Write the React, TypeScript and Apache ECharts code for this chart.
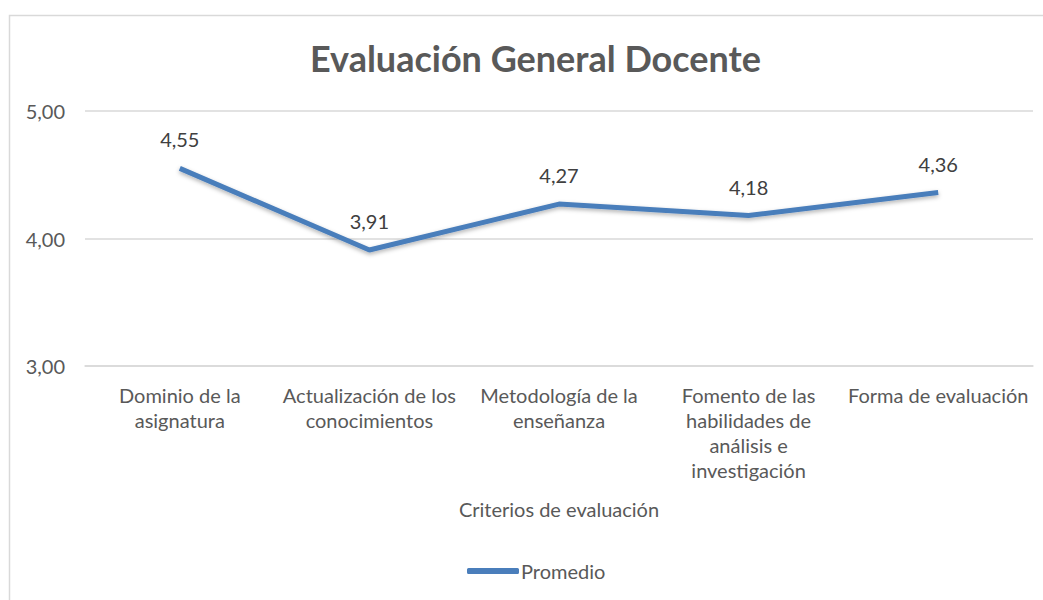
import React, { useEffect, useRef } from "react";
import * as echarts from "echarts";

const categories = [
  "Dominio de la\nasignatura",
  "Actualización de los\nconocimientos",
  "Metodología de la\nenseñanza",
  "Fomento de las\nhabilidades de\nanálisis e\ninvestigación",
  "Forma de evaluación",
];
const promedio = [4.55, 3.91, 4.27, 4.18, 4.36];
const title = "Evaluación General Docente";
const xAxisName = "Criterios de evaluación";
const seriesName = "Promedio";

const FONT = "Lato, 'Open Sans', sans-serif";

export default function App() {
  const ref = useRef<HTMLDivElement>(null);
  useEffect(() => {
    if (!ref.current) return;
    const chart = echarts.init(ref.current, undefined, { renderer: "svg" });
    chart.setOption({
      animation: false,
      backgroundColor: "#ffffff",
      textStyle: { fontFamily: FONT },
      title: {
        text: title,
        left: 305,
        top: 35,
        textStyle: { fontSize: 36, fontWeight: "bold", color: "#595959", fontFamily: FONT },
      },
      graphic: [
        {
          type: "rect",
          shape: { x: 9.5, y: 15.5, width: 1050, height: 600 },
          style: { fill: "none", stroke: "#d9d9d9", lineWidth: 1.5 },
          silent: true,
        },
      ],
      legend: {
        bottom: 14,
        left: 462,
        icon: "roundRect",
        itemWidth: 52,
        itemHeight: 6,
        itemGap: 10,
        textStyle: { fontSize: 20, color: "#595959", fontFamily: FONT, padding: [0, 0, 0, -3] },
        data: [seriesName],
      },
      grid: { left: 85, right: 10, top: 111, bottom: 234, containLabel: false },
      xAxis: {
        type: "category",
        data: categories,
        boundaryGap: true,
        name: xAxisName,
        nameLocation: "middle",
        nameGap: 133,
        nameTextStyle: { fontSize: 20, color: "#595959", fontFamily: FONT },
        axisLine: { show: true, lineStyle: { color: "#d9d9d9", width: 1.5 } },
        axisTick: { show: false },
        axisLabel: {
          interval: 0,
          margin: 16,
          fontSize: 20,
          lineHeight: 25,
          color: "#595959",
          fontFamily: FONT,
        },
      },
      yAxis: {
        type: "value",
        min: 3,
        max: 5,
        interval: 1,
        axisLine: { show: false },
        axisTick: { show: false },
        splitLine: { show: true, lineStyle: { color: "#d9d9d9", width: 1.5 } },
        axisLabel: {
          margin: 20,
          fontSize: 20,
          color: "#595959",
          fontFamily: FONT,
          formatter: (v: number) => v.toFixed(2).replace(".", ","),
        },
      },
      series: [
        {
          name: seriesName,
          type: "line",
          data: promedio,
          symbol: "circle",
          symbolSize: 0.1,
          itemStyle: { color: "#4a7ebb" },
          lineStyle: {
            color: "#4a7ebb",
            width: 5,
            shadowColor: "rgba(0,0,0,0.3)",
            shadowBlur: 4,
            shadowOffsetY: 2,
          },
          label: {
            show: true,
            position: "top",
            distance: 19,
            fontSize: 20,
            color: "#404040",
            fontFamily: FONT,
            formatter: (p: any) => Number(p.value).toFixed(2).replace(".", ","),
          },
        },
      ],
    });
    return () => chart.dispose();
  }, []);
  return (
    <div
      ref={ref}
      style={{ position: "absolute", left: 0, top: 0, width: 1043, height: 600 }}
    />
  );
}
